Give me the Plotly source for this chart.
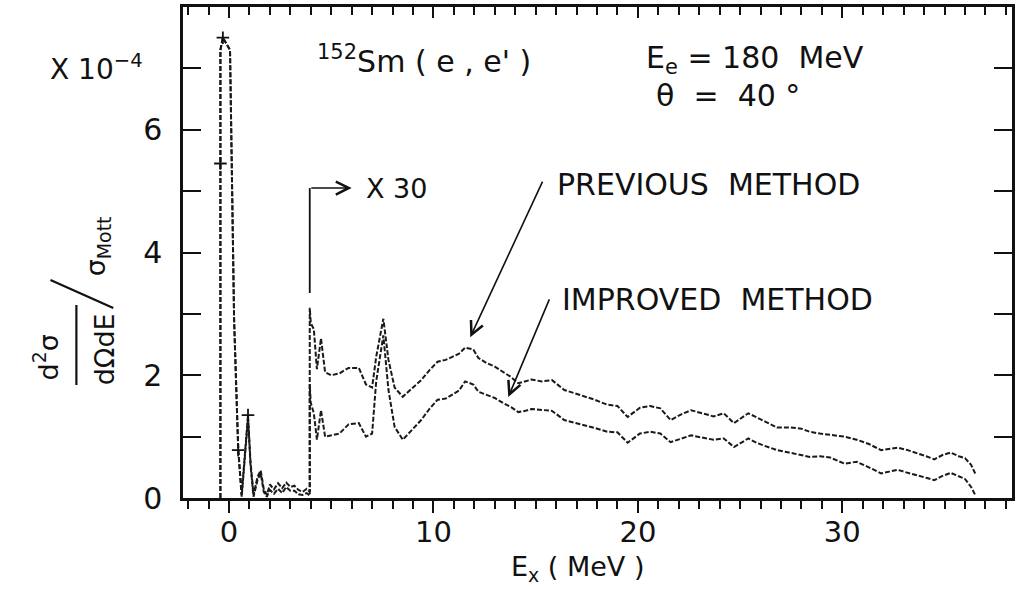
import plotly.graph_objects as go

# Low-energy region (drawn unscaled), excitation energy in MeV
low_x = [-0.42, -0.42, -0.3, 0.05, 0.25, 0.45, 0.62, 0.8, 0.93, 1.05, 1.2, 1.4, 1.55, 1.7,
         1.85, 2.0, 2.2, 2.4, 2.6, 2.8, 3.0, 3.2, 3.4, 3.6, 3.8, 3.95]
low_prev = [0.0, 7.3, 7.5, 7.3, 2.9, 0.8, 0.05, 0.9, 1.35, 0.6, 0.05, 0.35, 0.45, 0.15,
            0.05, 0.22, 0.14, 0.24, 0.16, 0.25, 0.18, 0.2, 0.13, 0.1, 0.15, 0.1]
low_impr = [0.0, 7.3, 7.5, 7.3, 2.9, 0.8, 0.02, 0.85, 1.3, 0.55, 0.02, 0.3, 0.4, 0.1,
            0.02, 0.13, 0.07, 0.15, 0.08, 0.18, 0.12, 0.12, 0.06, 0.05, 0.08, 0.04]

# Continuum region (drawn multiplied by 30)
hi_x = [3.95, 4.0, 4.15, 4.3, 4.5, 4.7, 5.0, 5.4, 5.85, 6.35, 6.7, 7.0, 7.2, 7.55, 7.8, 8.1,
        8.5, 9.0, 9.4, 9.8, 10.2, 10.6, 10.9, 11.25, 11.55, 11.95, 12.2, 12.6, 13.0, 13.4,
        13.8, 14.15, 14.5, 14.8, 15.3, 15.8, 16.4, 17.0, 17.5, 17.9, 18.5, 19.0, 19.5, 20.1,
        20.6, 21.1, 21.6, 22.1, 22.6, 23.2, 23.7, 24.2, 24.7, 25.4, 25.8, 26.2, 26.8, 27.4,
        28.0, 28.4, 28.9, 29.4, 30.1, 30.7, 31.3, 31.9, 32.3, 32.7, 33.2, 33.7, 34.1, 34.5,
        34.9, 35.3, 35.7, 36.0, 36.3, 36.5]
hi_prev = [3.1, 2.85, 2.75, 2.1, 2.6, 2.05, 2.0, 2.03, 2.12, 2.12, 1.85, 1.8, 2.3, 2.92, 2.25,
           1.8, 1.65, 1.8, 1.92, 2.08, 2.22, 2.25, 2.3, 2.35, 2.45, 2.42, 2.28, 2.2, 2.14,
           2.05, 1.97, 1.87, 1.9, 1.93, 1.9, 1.92, 1.76, 1.7, 1.65, 1.6, 1.52, 1.5, 1.32,
           1.47, 1.5, 1.46, 1.27, 1.36, 1.43, 1.38, 1.33, 1.38, 1.22, 1.38, 1.32, 1.25, 1.15,
           1.15, 1.13, 1.08, 1.05, 1.03, 1.0, 0.95, 0.88, 0.78, 0.8, 0.82, 0.78, 0.73, 0.68,
           0.63, 0.7, 0.74, 0.68, 0.65, 0.54, 0.4]
hi_impr = [1.85, 1.55, 1.38, 0.95, 1.43, 1.0, 1.02, 1.05, 1.2, 1.22, 1.0, 1.05, 1.9, 2.65,
           1.76, 1.16, 0.95, 1.12, 1.27, 1.45, 1.6, 1.62, 1.68, 1.75, 1.9, 1.85, 1.73, 1.68,
           1.63, 1.55, 1.48, 1.4, 1.42, 1.45, 1.44, 1.42, 1.27, 1.22, 1.18, 1.14, 1.08, 1.07,
           0.9, 1.05, 1.08, 1.05, 0.91, 0.97, 1.02, 0.98, 0.95, 0.97, 0.83, 0.97, 0.9, 0.85,
           0.78, 0.74, 0.7, 0.67, 0.68, 0.66, 0.56, 0.59, 0.5, 0.4, 0.43, 0.46, 0.41, 0.37,
           0.33, 0.29, 0.36, 0.41, 0.35, 0.31, 0.18, 0.05]

# Individual points shown with error crosses
err_x = [-0.42, -0.3, 0.45, 0.93]
err_y = [5.45, 7.5, 0.78, 1.35]

x_ticks = [0, 10, 20, 30]
y_ticks = [0, 2, 4, 6]

FONT = "DejaVu Sans"
INK = "#111111"
L, R, T, B = 183, 3, 7, 91
W, H = 1018, 589
PW, PH = W - L - R, H - T - B


def px(xp):
    return (xp - L) / PW


def py(yp):
    return (H - B - yp) / PH


fig = go.Figure()
line_style = dict(color="#1a1a1a", width=2, dash="5px,2px")
fig.add_trace(go.Scatter(x=low_x + hi_x, y=low_prev + hi_prev, mode="lines",
                         line=line_style, name="previous method", showlegend=False))
fig.add_trace(go.Scatter(x=low_x + hi_x, y=low_impr + hi_impr, mode="lines",
                         line=line_style, name="improved method", showlegend=False))
fig.add_trace(go.Scatter(x=err_x, y=err_y, mode="markers",
                         marker=dict(symbol="cross-thin-open", size=9, color=INK,
                                     line=dict(color=INK, width=1.8)),
                         showlegend=False))
# carrier trace for the top axis
fig.add_trace(go.Scatter(x=[hi_x[0]], y=[0], xaxis="x2", mode="markers",
                         marker=dict(opacity=0), showlegend=False, hoverinfo="skip"))

xr = [-2.25, 38.3]
fig.update_layout(
    width=W, height=H,
    margin=dict(l=L, r=R, t=T, b=B, pad=0),
    paper_bgcolor="white", plot_bgcolor="white",
    font=dict(family=FONT, color=INK),
    xaxis=dict(range=xr, tickmode="array", tickvals=x_ticks,
               ticks="outside", ticklen=12, tickwidth=2, tickcolor=INK,
               minor=dict(dtick=1, tick0=0, ticks="outside", ticklen=8, tickwidth=1.8,
                          tickcolor=INK),
               showline=True, linewidth=2.5, linecolor=INK, showgrid=False,
               zeroline=False, tickfont=dict(size=29), ticklabelstandoff=-6),
    xaxis2=dict(range=xr, overlaying="x", side="top", anchor="y", matches="x",
                tickmode="array", tickvals=x_ticks, showticklabels=False,
                ticks="inside", ticklen=11, tickwidth=2, tickcolor=INK,
                minor=dict(dtick=1, tick0=0, ticks="inside", ticklen=8, tickwidth=1.8,
                           tickcolor=INK),
                showline=True, linewidth=2.5, linecolor=INK, showgrid=False,
                zeroline=False),
    yaxis=dict(range=[0, 8.0], tickmode="array", tickvals=y_ticks,
               ticks="inside", ticklen=18, tickwidth=2, tickcolor=INK,
               minor=dict(dtick=1, tick0=0, ticks="inside", ticklen=18, tickwidth=2,
                          tickcolor=INK),
               showline=True, linewidth=2.5, linecolor=INK, mirror="ticks",
               showgrid=False, zeroline=False, tickfont=dict(size=30),
               ticklabelstandoff=12),
)

TXT = 30

def note(x, y, text, size=TXT, xanchor="left", **kw):
    fig.add_annotation(x=x, y=y, text=text, showarrow=False, xanchor=xanchor,
                       yanchor="middle", font=dict(family=FONT, size=size, color=INK), **kw)

# Labels inside the frame
note(4.2, 7.15, "<sup>152</sup>Sm ( e , e' )")
note(20.3, 7.15, "E<sub>e</sub> = 180  MeV")
note(20.8, 6.55, "θ  =  40 °")
note(6.6, 5.05, "X 30", size=27)
note(15.95, 5.1, "PREVIOUS  METHOD")
note(16.2, 3.24, "IMPROVED  METHOD")

# x30 bracket and arrows
fig.add_shape(type="line", x0=3.95, x1=3.95, y0=3.34, y1=5.05, xref="x", yref="y",
              line=dict(color=INK, width=1.8))
arrow = dict(showarrow=True, text="", arrowhead=5, arrowsize=1.6, arrowwidth=1.6,
             arrowcolor=INK, axref="x", ayref="y", xref="x", yref="y")
fig.add_annotation(x=6.0, y=5.05, ax=3.95, ay=5.05, **arrow)
fig.add_annotation(x=11.8, y=2.62, ax=15.37, ay=5.18, **arrow)
fig.add_annotation(x=13.66, y=1.645, ax=15.7, ay=3.26, **arrow)

# Axis titles
note(px(579), py(568), "E<sub>x</sub> ( MeV )", size=27, xanchor="center", xref="paper",
     yref="paper")
note(px(96), py(68), "X 10<sup>−4</sup>", size=28, xanchor="center", xref="paper", yref="paper")
note(px(45), py(357), "d<sup>2</sup>σ", size=27, xanchor="center", xref="paper", yref="paper",
     textangle=-90)
note(px(104), py(349), "dΩdE", size=27, xanchor="center", xref="paper", yref="paper",
     textangle=-90)
note(px(98), py(246), "σ<sub>Mott</sub>", size=27, xanchor="center", xref="paper",
     yref="paper", textangle=-90)
fig.add_shape(type="line", xref="paper", yref="paper", x0=px(76), x1=px(76),
              y0=py(305), y1=py(385), line=dict(color=INK, width=2.2))
fig.add_shape(type="line", xref="paper", yref="paper", x0=px(50), x1=px(113),
              y0=py(280), y1=py(308), line=dict(color=INK, width=2.2))

fig.write_html("out.html")
